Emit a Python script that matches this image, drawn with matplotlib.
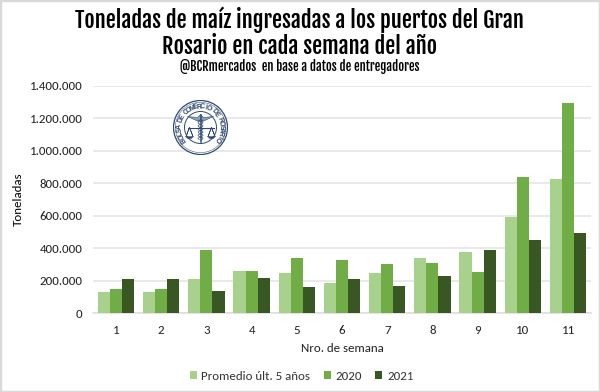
import numpy as np
import matplotlib
matplotlib.use("Agg")
import matplotlib.pyplot as plt
from matplotlib.patches import Circle, Rectangle, Polygon
from matplotlib.ticker import FuncFormatter
import logging
logging.getLogger("matplotlib.font_manager").setLevel(logging.ERROR)

weeks = ["1", "2", "3", "4", "5", "6", "7", "8", "9", "10", "11"]
promedio = [130000, 130000, 210000, 257000, 245000, 185000, 247000, 337000, 377000, 592000, 825000]
y2020 = [150000, 150000, 388000, 260000, 338000, 325000, 300000, 307000, 253000, 840000, 1296000]
y2021 = [208000, 208000, 135000, 215000, 160000, 208000, 167000, 230000, 389000, 452000, 494000]
series_names = ["Promedio últ. 5 años", "2020", "2021"]
colors = ["#A9D18E", "#70AD47", "#385723"]
title_lines = ["Toneladas de maíz ingresadas a los puertos del Gran", "Rosario en cada semana del año"]
subtitle = "@BCRmercados  en base a datos de entregadores"
logo_text = "BOLSA DE COMERCIO DE ROSARIO"
BODY = ["Carlito", "Open Sans", "DejaVu Sans"]
HEAD = ["Fjalla One", "Liberation Sans", "DejaVu Sans"]

W, H = 600, 392
fig = plt.figure(figsize=(W / 100, H / 100), dpi=100, facecolor="white")
fig.add_artist(Rectangle((0, 0), 1, 1, transform=fig.transFigure, fill=False, ec="#D9D9D9", lw=2.5))

ax = fig.add_axes([93.4 / W, 1 - 313 / H, (590.6 - 93.4) / W, (313 - 86) / H])
x = np.arange(len(weeks))
bw = 0.268
for i, (vals, c, n) in enumerate(zip([promedio, y2020, y2021], colors, series_names)):
    ax.bar(x + (i - 1) * bw, vals, bw, color=c, label=n, zorder=3)
ax.set_xlim(-0.5, len(weeks) - 0.5)
ax.set_ylim(0, 1400000)
ax.set_yticks(np.arange(0, 1400001, 200000))
ax.yaxis.set_major_formatter(FuncFormatter(lambda v, p: f"{int(v):,}".replace(",", ".")))
ax.set_xticks(x, weeks)
ax.grid(axis="y", color="#E3E3E3", lw=1.1, zorder=0)
ax.set_axisbelow(True)
for s in ["top", "right", "left"]:
    ax.spines[s].set_visible(False)
ax.spines["bottom"].set_color("#DDDDDD")
ax.spines["bottom"].set_linewidth(1.1)
ax.tick_params(axis="both", length=0, labelsize=9.4, colors="#222222")
ax.tick_params(axis="y", pad=8)
ax.tick_params(axis="x", pad=9)
for t in ax.get_xticklabels() + ax.get_yticklabels():
    t.set_family(BODY)

def ft(px, py, s, **kw):
    return fig.text(px / W, 1 - py / H, s, ha="center", va="center", **kw)

ft(299.5, 20, title_lines[0], family=HEAD, fontsize=16.2, color="black")
ft(300, 46, title_lines[1], family=HEAD, fontsize=16.2, color="black")
ft(300, 66, subtitle, family=HEAD, fontsize=9.1, color="black")
ft(342.5, 348, "Nro. de semana", family=BODY, fontsize=9.3, color="#222222")
ft(18.5, 199, "Toneladas", family=BODY, fontsize=9.3, color="black", rotation=90)

leg = fig.legend(loc="center", bbox_to_anchor=(301.5 / W, 1 - 376 / H), ncol=3, frameon=False,
                 prop={"family": BODY, "size": 9.3}, handlelength=0.55, handleheight=0.55,
                 handletextpad=0.35, columnspacing=1.05, labelcolor="#333333")

# Logo
cx, cy, r = 200.5, 127.5, 27
la = fig.add_axes([(cx - r - 1) / W, 1 - (cy + r + 1) / H, (2 * r + 2) / W, (2 * r + 2) / H], zorder=5)
la.set_xlim(-r - 1, r + 1); la.set_ylim(-r - 1, r + 1); la.axis("off"); la.patch.set_alpha(0)
navy = "#2F4A70"
la.add_patch(Circle((0, 0), r, fill=True, fc="white", ec=navy, lw=0.9))
la.add_patch(Circle((0, 0), r - 1.8, fill=False, ec=navy, lw=0.35))
la.add_patch(Circle((0, 0), 16, fill=False, ec=navy, lw=0.7))
angs = np.linspace(215, -35, len(logo_text))
for ch, a in zip(logo_text, angs):
    ra = np.deg2rad(a)
    la.text(20.7 * np.cos(ra), 20.7 * np.sin(ra), ch, rotation=a - 90, rotation_mode="anchor",
            ha="center", va="center", fontsize=5.0, color=navy, family="Liberation Sans", fontweight="bold")
la.plot([0, 0], [-14, 13], color=navy, lw=1.1)
la.plot([-13, 13], [0, 0], color=navy, lw=0.8)
la.add_patch(Polygon([(-13, 11), (-2, 6), (0, 8), (2, 6), (13, 11), (3, 10), (0, 13), (-3, 10)],
                     fc="#8FA3BD", ec=navy, lw=0.4))
for sx in (-1, 1):
    la.plot([sx * 11, sx * 14.5, sx * 11, sx * 7.5, sx * 11], [0, -9, 0, -9, 0], color=navy, lw=0.5)
    la.add_patch(Polygon([(sx * 7, -9), (sx * 15, -9), (sx * 13, -11), (sx * 9, -11)], fc=navy, ec=navy, lw=0.3))
t = np.arange(-12, 8, 0.5)
la.plot(2.5 * np.sin(t * 1.0), t, color=navy, lw=0.5)
la.plot(-2.5 * np.sin(t * 1.0), t, color=navy, lw=0.5)

fig.savefig("out.png", dpi=100)
